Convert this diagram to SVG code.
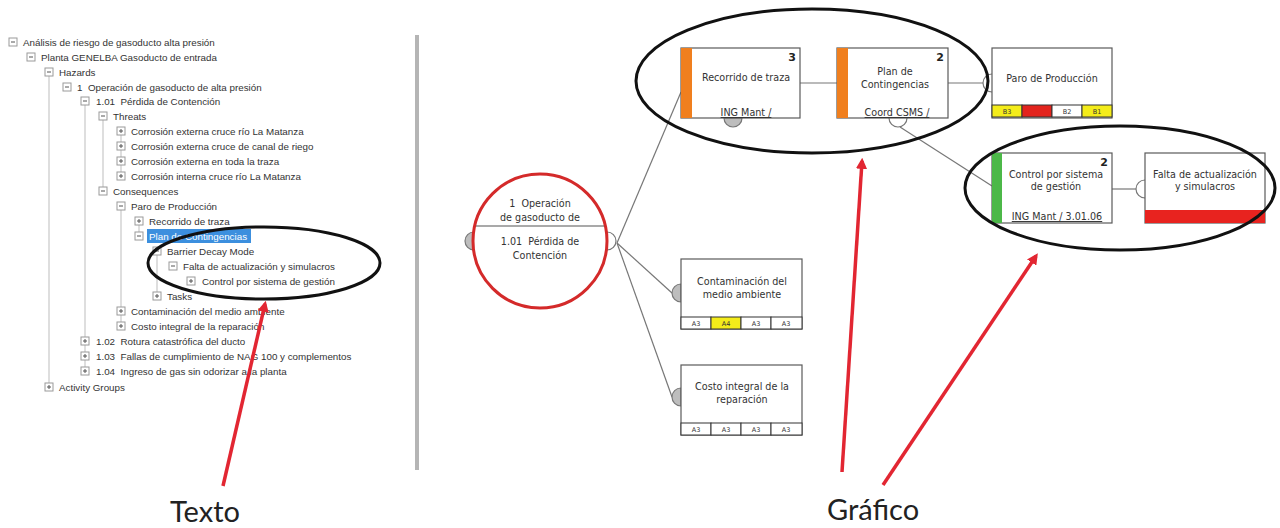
<svg xmlns="http://www.w3.org/2000/svg" width="1280" height="528" viewBox="0 0 1280 528">
<style>
.tt{font-family:"Liberation Sans",Arial,sans-serif;font-size:9.8px;fill:#333;white-space:pre}
.tl{stroke:#bdbdbd;stroke-width:1;fill:none}
.bx{fill:#fff;stroke:#5a5a5a;stroke-width:1.2}
.dt{font-family:"DejaVu Sans",sans-serif;font-size:9.6px;fill:#333;text-anchor:middle;white-space:pre}
.num{font-family:"DejaVu Sans",sans-serif;font-size:11px;font-weight:bold;fill:#222;text-anchor:end}
.ul{text-decoration:underline}
.cell{stroke:#333;stroke-width:1}
.ct{font-family:"DejaVu Sans",sans-serif;font-size:6.5px;fill:#333;text-anchor:middle}
.con{stroke:#777;stroke-width:1.2;fill:none}
.sg{fill:#bdbdbd;stroke:#777;stroke-width:1.2}
.sw{fill:#fff;stroke:#777;stroke-width:1.2}
.ell{fill:none;stroke:#111;stroke-width:3}
.arr{stroke:#e22632;stroke-width:3.5;fill:none;marker-end:url(#ah)}
.lab{font-family:Lato,"Open Sans",sans-serif;font-size:29px;fill:#222}
</style>
<defs>
<marker id="ah" viewBox="0 0 10 10" refX="7" refY="5" markerWidth="3.2" markerHeight="3.2" orient="auto">
<path d="M0,0 L10,5 L0,10 z" fill="#e22632"/>
</marker>
<g id="mn"><rect x="-4" y="-4" width="8" height="8" fill="#fff" stroke="#9a9a9a"/><path d="M-2,0 H2" stroke="#555"/></g>
<g id="pl"><rect x="-4" y="-4" width="8" height="8" fill="#fff" stroke="#9a9a9a"/><path d="M-2,0 H2 M0,-2 V2" stroke="#555"/></g>
</defs>
<rect width="1280" height="528" fill="#fff"/>

<g id="tree">
<path class="tl" d="M49,72 V387 M85,101 V371 M103,116 V191 M121,131 V176 M121,206 V326 M139,221 V236 M157,251 V296"/>
<use href="#mn" x="13" y="42"/><text class="tt" x="23" y="45.5">Análisis de riesgo de gasoducto alta presión</text>
<use href="#mn" x="31" y="57"/><text class="tt" x="41" y="60.5">Planta GENELBA Gasoducto de entrada</text>
<use href="#mn" x="49" y="72"/><text class="tt" x="59" y="75.5">Hazards</text>
<use href="#mn" x="67" y="87"/><text class="tt" x="77" y="90.5">1  Operación de gasoducto de alta presión</text>
<use href="#mn" x="85" y="101"/><text class="tt" x="96" y="104.5">1.01  Pérdida de Contención</text>
<use href="#mn" x="103" y="116"/><text class="tt" x="113" y="119.5">Threats</text>
<use href="#pl" x="121" y="131"/><text class="tt" x="131" y="134.5">Corrosión externa cruce río La Matanza</text>
<use href="#pl" x="121" y="146"/><text class="tt" x="131" y="149.5">Corrosión externa cruce de canal de riego</text>
<use href="#pl" x="121" y="161"/><text class="tt" x="131" y="164.5">Corrosión externa en toda la traza</text>
<use href="#pl" x="121" y="176"/><text class="tt" x="131" y="179.5">Corrosión interna cruce río La Matanza</text>
<use href="#mn" x="103" y="191"/><text class="tt" x="113" y="194.5">Consequences</text>
<use href="#mn" x="121" y="206"/><text class="tt" x="131" y="209.5">Paro de Producción</text>
<use href="#pl" x="139" y="221"/><text class="tt" x="149" y="224.5">Recorrido de traza</text>
<use href="#mn" x="139" y="236"/><rect x="147" y="229" width="104" height="14" fill="#3c8fde"/><text class="tt" x="149" y="239.5" style="fill:#fff">Plan de Contingencias</text>
<use href="#mn" x="157" y="251"/><text class="tt" x="167" y="254.5">Barrier Decay Mode</text>
<use href="#mn" x="173" y="266"/><text class="tt" x="183" y="269.5">Falta de actualización y simulacros</text>
<use href="#pl" x="191" y="281"/><text class="tt" x="202" y="284.5">Control por sistema de gestión</text>
<use href="#pl" x="157" y="296"/><text class="tt" x="167" y="299.5">Tasks</text>
<use href="#pl" x="121" y="311"/><text class="tt" x="131" y="314.5">Contaminación del medio ambiente</text>
<use href="#pl" x="121" y="326"/><text class="tt" x="131" y="329.5">Costo integral de la reparación</text>
<use href="#pl" x="85" y="341"/><text class="tt" x="96" y="344.5">1.02  Rotura catastrófica del ducto</text>
<use href="#pl" x="85" y="356"/><text class="tt" x="96" y="359.5">1.03  Fallas de cumplimiento de NAG 100 y complementos</text>
<use href="#pl" x="85" y="371"/><text class="tt" x="96" y="374.5">1.04  Ingreso de gas sin odorizar a la planta</text>
<use href="#pl" x="49" y="387"/><text class="tt" x="59" y="390.5">Activity Groups</text>
</g>

<rect id="divider" x="415" y="35" width="4" height="435" fill="#b5b5b5"/>

<g id="connectors">
<path class="con" d="M617,243 L681,92"/>
<path class="con" d="M617,243 L672,293"/>
<path class="con" d="M617,243 L672,397"/>
<path class="con" d="M800,83 H837"/>
<path class="con" d="M948,83 H983"/>
<path class="con" d="M900,127 L992,186"/>
<path class="con" d="M1112,189 H1136"/>
</g>

<g id="hazard">
<path class="sg" d="M474,232 A9,9 0 0 0 474,250 z"/>
<path class="sw" d="M607,232 A9,9 0 0 1 607,250"/>
<circle cx="540" cy="241" r="67" fill="#fff" stroke="#d42a2a" stroke-width="3"/>
<path d="M476,226 H604" stroke="#555" stroke-width="1.2"/>
<text class="dt" x="540" y="207">1  Operación</text>
<text class="dt" x="540" y="221">de gasoducto de</text>
<text class="dt" x="540" y="245">1.01  Pérdida de</text>
<text class="dt" x="540" y="259">Contención</text>
</g>

<g id="recorrido">
<path class="sg" d="M724,118 A9,9 0 0 0 742,118 z"/>
<rect class="bx" x="681" y="48" width="119" height="70"/>
<rect x="681" y="48" width="11" height="70" fill="#f07f1e"/>
<text class="num" x="796" y="61">3</text>
<text class="dt" x="746" y="81">Recorrido de traza</text>
<text class="dt ul" x="746" y="116">ING Mant /</text>
</g>

<g id="plan">
<path class="sw" d="M889,118 A9,9 0 0 0 907,118"/>
<rect class="bx" x="837" y="48" width="111" height="70"/>
<rect x="837" y="48" width="11" height="70" fill="#f07f1e"/>
<text class="num" x="944" y="61">2</text>
<text class="dt" x="895" y="75">Plan de</text>
<text class="dt" x="895" y="88">Contingencias</text>
<text class="dt ul" x="897" y="116">Coord CSMS /</text>
</g>

<g id="paro">
<path class="sw" d="M992,74 A9,9 0 0 0 992,92"/>
<rect class="bx" x="992" y="48" width="120" height="70"/>
<text class="dt" x="1052" y="82">Paro de Producción</text>
<rect class="cell" x="992" y="105" width="30" height="12" fill="#f4ec1a"/>
<rect class="cell" x="1022" y="105" width="30" height="12" fill="#e3241d"/>
<rect class="cell" x="1052" y="105" width="30" height="12" fill="#fff"/>
<rect class="cell" x="1082" y="105" width="30" height="12" fill="#f4ec1a"/>
<text class="ct" x="1007" y="113.5">B3</text>
<text class="ct" x="1067" y="113.5">B2</text>
<text class="ct" x="1097" y="113.5">B1</text>
</g>

<g id="control">
<rect class="bx" x="992" y="153" width="120" height="70"/>
<rect x="992" y="153" width="10" height="70" fill="#4cb848"/>
<text class="num" x="1108" y="166">2</text>
<text class="dt" x="1056" y="178">Control por sistema</text>
<text class="dt" x="1056" y="190">de gestión</text>
<text class="dt ul" x="1057" y="220">ING Mant / 3.01.06</text>
</g>

<g id="falta">
<path class="sw" d="M1145,180 A9,9 0 0 0 1145,198"/>
<rect class="bx" x="1145" y="153" width="120" height="70"/>
<rect x="1145" y="210" width="120" height="13" fill="#e8231f"/>
<text class="dt" x="1205" y="178">Falta de actualización</text>
<text class="dt" x="1205" y="190">y simulacros</text>
</g>

<g id="contaminacion">
<path class="sg" d="M681,284 A9,9 0 0 0 681,302 z"/>
<rect class="bx" x="681" y="259" width="121" height="70"/>
<text class="dt" x="742" y="285">Contaminación del</text>
<text class="dt" x="742" y="298">medio ambiente</text>
<rect class="cell" x="681" y="317" width="30" height="12" fill="#fff"/>
<rect class="cell" x="711" y="317" width="30" height="12" fill="#f4ec1a"/>
<rect class="cell" x="741" y="317" width="30" height="12" fill="#fff"/>
<rect class="cell" x="771" y="317" width="31" height="12" fill="#fff"/>
<text class="ct" x="696" y="325.5">A3</text>
<text class="ct" x="726" y="325.5">A4</text>
<text class="ct" x="756" y="325.5">A3</text>
<text class="ct" x="786" y="325.5">A3</text>
</g>

<g id="costo">
<path class="sg" d="M681,388 A9,9 0 0 0 681,406 z"/>
<rect class="bx" x="681" y="365" width="121" height="70"/>
<text class="dt" x="742" y="390">Costo integral de la</text>
<text class="dt" x="742" y="403">reparación</text>
<rect class="cell" x="681" y="423" width="30" height="12" fill="#fff"/>
<rect class="cell" x="711" y="423" width="30" height="12" fill="#fff"/>
<rect class="cell" x="741" y="423" width="30" height="12" fill="#fff"/>
<rect class="cell" x="771" y="423" width="31" height="12" fill="#fff"/>
<text class="ct" x="696" y="431.5">A3</text>
<text class="ct" x="726" y="431.5">A3</text>
<text class="ct" x="756" y="431.5">A3</text>
<text class="ct" x="786" y="431.5">A3</text>
</g>

<g id="annotations">
<ellipse class="ell" cx="264" cy="263" rx="116" ry="36"/>
<ellipse class="ell" cx="812" cy="81" rx="176" ry="72"/>
<ellipse class="ell" cx="1120" cy="188" rx="155" ry="62"/>
<path class="arr" d="M223,486 L265,304"/>
<path class="arr" d="M842,472 L862,161"/>
<path class="arr" d="M883,485 L1036,256"/>
<text class="lab" x="170" y="522">Texto</text>
<text class="lab" x="827" y="520">Gráfico</text>
</g>
</svg>
